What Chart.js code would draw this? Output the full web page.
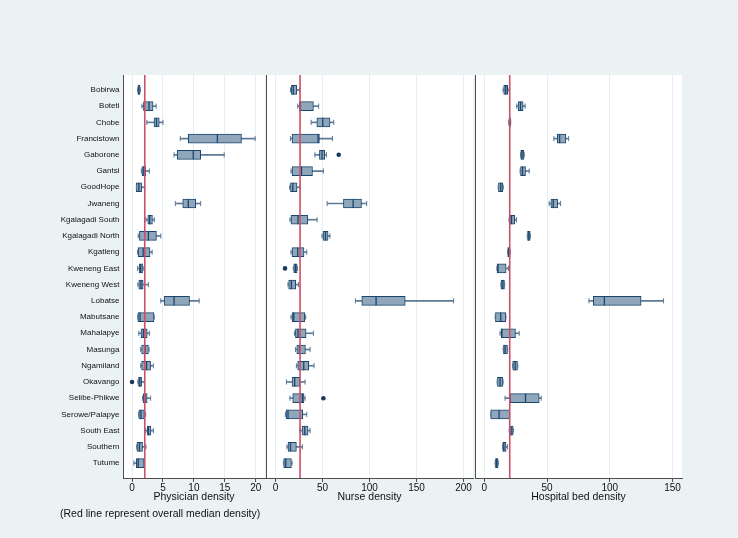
<!DOCTYPE html>
<html><head><meta charset="utf-8">
<script src="https://cdn.jsdelivr.net/npm/chart.js@4.4.0/dist/chart.umd.min.js"></script>
<style>
html,body{margin:0;padding:0;background:#eaf2f3;}
#wrap{position:relative;width:738px;height:538px;overflow:hidden;background:#eaf2f3;}
canvas{position:absolute;left:0;top:0;}
#note{position:absolute;left:60px;top:506px;font:10.5px 'Liberation Sans',Arial,sans-serif;line-height:14px;color:#111;white-space:nowrap;}
</style></head><body>
<div id="wrap">
<canvas id="c1" width="738" height="538"></canvas>
<canvas id="c2" width="738" height="538"></canvas>
<canvas id="c3" width="738" height="538"></canvas>
<div id="note">(Red line represent overall median density)</div>
</div>
<script>
// ---------- DATA ----------
const regions = ["Bobirwa","Boteti","Chobe","Francistown","Gaborone","Gantsi","GoodHope","Jwaneng",
  "Kgalagadi South","Kgalagadi North","Kgatleng","Kweneng East","Kweneng West","Lobatse","Mabutsane",
  "Mahalapye","Masunga","Ngamiland","Okavango","Selibe-Phikwe","Serowe/Palapye","South East","Southern","Tutume"];

// Physician density
const physLo  = [0.9,1.6,2.4,7.8,6.8,1.5,0.7,7.0,2.25,1.0,0.9,0.9,0.95,4.65,0.9,1.1,1.4,1.4,0.95,1.7,1.05,2.2,0.75,0.3];
const physQ1  = [0.95,1.85,3.55,9.1,7.3,1.6,0.7,8.2,2.55,1.2,1.0,1.15,1.1,5.2,0.95,1.45,1.55,1.55,1.05,1.8,1.1,2.45,0.8,0.7];
const physMed = [1.1,2.75,3.95,13.8,9.9,1.9,1.1,9.1,2.85,2.65,1.8,1.4,1.45,6.8,1.3,1.85,2.15,2.35,1.25,2.1,1.45,2.65,1.2,1.0];
const physQ3  = [1.3,3.4,4.4,17.7,11.1,2.2,1.55,10.3,3.3,3.95,2.9,1.7,1.8,9.3,3.55,2.45,2.65,3.0,1.55,2.45,2.0,3.05,1.7,1.95];
const physHi  = [1.35,3.9,5.0,19.9,14.9,2.8,2.05,11.1,3.6,4.65,3.25,1.8,2.65,10.85,3.6,2.8,2.75,3.45,2.0,3.0,2.2,3.45,2.25,1.95];
const physOutliers = [[18,0.0]];
const physMedianAll = 2.06;
const physTicks = [0,5,10,15,20];

// Nurse density
const nurseLo  = [16,23.7,38,16,42,16.6,15.2,55,15.5,49.6,16.6,19,13.4,85,16.6,20.2,21.3,22.3,11.7,15.5,10.6,25.9,12.3,8.5];
const nurseQ1  = [17,25.5,44,17.7,46.8,17.7,16,72.3,16.6,50.6,17.7,19.5,14.1,91.8,17.7,21.3,22.7,23.7,17.7,18.4,11.3,28.3,13.4,8.8];
const nurseMed = [19,26.6,50.3,45.3,49.6,27.7,18.5,82.6,24,53.2,23.7,21.2,17,107,19.5,24,25.5,30.1,20.5,28.7,13.4,31.2,16,11];
const nurseQ3  = [22.7,40.4,58,46.8,52.4,39.4,23,91.5,34.4,56,30.4,23,21.6,138,31.2,32.6,31.9,35.4,25.9,30.4,29,34.7,22.3,17];
const nurseHi  = [25.5,46,62,60.6,54.3,51,26.2,97,44.3,58,33.3,23.5,24.5,189.4,32.2,40.4,36.8,41.1,31.5,31.5,33.3,36.8,28.7,17.7];
const nurseOutliers = [[4,67.3],[11,10.2],[19,51]];
const nurseMedianAll = 26.2;
const nurseTicks = [0,50,100,150,200];

// Hospital bed density
const bedLo  = [14.9,25.8,19.4,55.4,28.8,28.5,11,51.7,19.7,34.2,18.5,10,13.2,83.4,8.6,12.5,15,22.4,10.2,16.5,5,19.8,14.4,8.6];
const bedQ1  = [15.4,26.9,19.6,58.1,29,28.8,11.2,53,20.2,34.4,18.6,10.1,13.3,86.9,8.8,13.3,15.2,22.6,10.4,20.5,5,20,14.6,8.8];
const bedMed = [17,28.8,20.2,60,30,30.4,13,54.9,21.6,35.4,19.4,10.9,14.7,95.7,13,14,16.5,24.5,12.5,32.8,11.7,21.3,15.5,9.8];
const bedQ3  = [18.6,30.9,20.8,65,31.5,32.8,14.7,58.4,24.2,36.5,20.5,17.3,16,125,17,24.8,18.4,26.4,14.7,43.7,20.2,22.9,17.3,10.9];
const bedHi  = [19.7,32.5,21,67.2,31.8,35.7,15,60.8,25.6,36.7,20.6,19.2,16.2,142.9,17.2,27.7,18.6,26.6,14.9,45.3,20.2,23.1,18.4,11.1];
const bedOutliers = [];
const bedMedianAll = 20.2;
const bedTicks = [0,50,100,150];

// ---------- STYLE ----------
const NAVY = '#1a476f', BOXFILL = '#8fa6bb', WHISK = '#5d7a96', DOT = '#1a3a5e';
const RED = '#cc5068', GRID = '#e6edf0', AXIS = '#4d4d4d', TXT = '#111';
const Y_MIN = -0.92, Y_MAX = 23.92;

Chart.defaults.font.family = "'Liberation Sans', Arial, Helvetica, sans-serif";

const whitePlot = {
  id: 'whitePlot',
  beforeDraw(chart) {
    const a = chart.chartArea, ctx = chart.ctx;
    ctx.save(); ctx.fillStyle = '#ffffff';
    ctx.fillRect(a.left, a.top, a.right - a.left, a.bottom - a.top);
    ctx.restore();
  }
};

function panel(id, o) {
  const idx = regions.map((_, i) => i);
  const datasets = [
    {type:'line', data:[{x:o.overall,y:Y_MIN},{x:o.overall,y:Y_MAX}], borderColor:RED, borderWidth:1.6,
     pointRadius:0, fill:false, tension:0, order:0},
    {type:'scatter', data:o.out.map(p => ({x:p[1], y:p[0]})), pointStyle:'circle', pointRadius:2.3,
     pointBackgroundColor:DOT, pointBorderWidth:0, pointBorderColor:DOT, order:1},
    {type:'scatter', data:idx.map(i => ({x:o.med[i], y:i})), pointStyle:'line', pointRotation:90, pointRadius:4.5,
     pointBorderColor:NAVY, pointBorderWidth:1.3, order:2},
    {type:'scatter', data:idx.flatMap(i => [{x:o.lo[i], y:i},{x:o.hi[i], y:i}]), pointStyle:'line', pointRotation:90,
     pointRadius:2.6, pointBorderColor:WHISK, pointBorderWidth:1, order:3},
    {type:'bar', data:idx.map(i => ({y:i, x:[o.q1[i], o.q3[i]]})), barThickness:9, backgroundColor:BOXFILL,
     borderColor:NAVY, borderWidth:1, borderSkipped:false, grouped:false, order:4},
    {type:'bar', data:idx.map(i => ({y:i, x:[o.lo[i], o.hi[i]]})), barThickness:1, backgroundColor:WHISK,
     borderWidth:0, grouped:false, order:5}
  ];
  return new Chart(document.getElementById(id), {
    type:'bar',
    data:{datasets},
    plugins:[whitePlot],
    options:{
      indexAxis:'y', responsive:false, animation:false, events:[],
      layout:{padding:{left:o.padL, right:o.padR, top:75, bottom:0}},
      plugins:{legend:{display:false}, tooltip:{enabled:false}},
      scales:{
        x:{type:'linear', position:'bottom', min:o.min, max:o.max,
           afterBuildTicks:s => { s.ticks = o.ticks.map(v => ({value:v})); },
           afterFit:s => { s.height = 60; },
           grid:{color:GRID, tickColor:AXIS, tickLength:4, drawTicks:true, lineWidth:1},
           border:{display:true, color:AXIS, width:1},
           ticks:{color:TXT, font:{size:10}, padding:0, maxRotation:0, autoSkip:false},
           title:{display:true, text:o.title, color:TXT, font:{size:10.5}, padding:{top:0, bottom:34.7}}},
        y:{type:'linear', reverse:true, min:Y_MIN, max:Y_MAX, offset:false,
           afterBuildTicks:s => { s.ticks = idx.map(i => ({value:i})); },
           afterFit:s => { s.width = o.yWidth; },
           grid:{display:false, drawTicks:false, tickLength:0},
           border:{display:true, color:AXIS, width:1},
           ticks:{display:o.showLabels, autoSkip:false, padding:3.5, color:TXT, font:{size:8},
                  callback:v => regions[v]}}
      }
    }
  });
}

panel('c1', {lo:physLo, q1:physQ1, med:physMed, q3:physQ3, hi:physHi, out:physOutliers, overall:physMedianAll,
  ticks:physTicks, min:-1.46, max:21.5, title:'Physician density', padL:0, padR:473, yWidth:123, showLabels:true});
panel('c2', {lo:nurseLo, q1:nurseQ1, med:nurseMed, q3:nurseQ3, hi:nurseHi, out:nurseOutliers, overall:nurseMedianAll,
  ticks:nurseTicks, min:-10, max:210, title:'Nurse density', padL:262, padR:265, yWidth:4, showLabels:false});
panel('c3', {lo:bedLo, q1:bedQ1, med:bedMed, q3:bedQ3, hi:bedHi, out:bedOutliers, overall:bedMedianAll,
  ticks:bedTicks, min:-7.5, max:157.6, title:'Hospital bed density', padL:471, padR:56, yWidth:4, showLabels:false});
</script>
</body></html>
